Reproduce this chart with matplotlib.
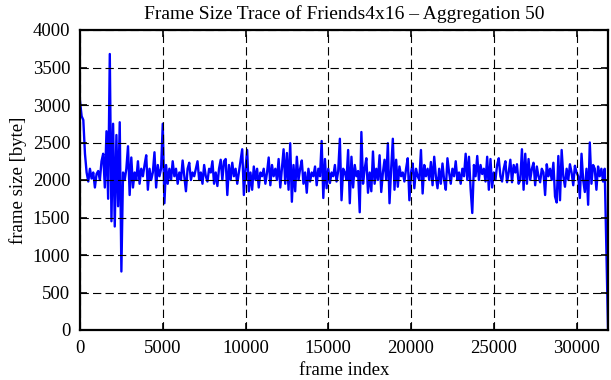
import matplotlib
matplotlib.use('Agg')
import matplotlib.pyplot as plt
import numpy as np

# frame size averaged over blocks, every 100 frames
frame_step = 100
frame_sizes = [
    # 0 - 4900
    3050, 2850, 2800, 2350, 2100, 1980, 2150, 2020, 2100, 1900,
    2080, 2120, 2000, 2250, 2350, 1900, 2650, 1750, 3680, 1450,
    2750, 1380, 2600, 1650, 2770, 780, 2100, 2000, 2150, 2450,
    1800, 2300, 1900, 2100, 2000, 2250, 1950, 2150, 2050, 2200,
    2330, 1870, 2150, 2000, 2100, 2370, 1900, 2200, 2050, 2150,
    # 5000 - 9900
    2750, 1690, 2200, 1950, 2150, 2000, 2250, 2050, 2150, 1950,
    2100, 2000, 2260, 2050, 1850, 2150, 2230, 2000, 2100, 2050,
    2150, 2250, 2000, 2100, 1950, 2200, 2050, 1980, 2150, 2100,
    2250, 1950, 2100, 1920, 2150, 2270, 2000, 2250, 2280, 1800,
    2200, 2000, 2230, 2050, 2150, 1950, 2100, 2250, 2410, 1800,
    # 10000 - 14900
    2150, 2400, 1850, 2100, 1870, 2180, 2000, 2150, 1900, 2100,
    2050, 2150, 1950, 2100, 2300, 1930, 2200, 2050, 2150, 2000,
    2280, 1900, 2150, 2410, 1950, 2360, 1870, 2490, 1710, 2200,
    1850, 2310, 2000, 2150, 2260, 1950, 2100, 1830, 2150, 1980,
    2100, 2050, 2180, 1930, 2150, 2050, 2520, 1760, 2280, 1890,
    # 15000 - 19900
    2150, 1960, 2100, 2050, 2200, 1980, 2120, 2550, 1730, 2150,
    2100, 2000, 2400, 1690, 2310, 1900, 2200, 2050, 2120, 1570,
    2640, 1950, 2150, 2290, 1830, 2100, 1850, 2380, 1950, 2150,
    2000, 2330, 1840, 2100, 2270, 2000, 2490, 1690, 2150, 2550,
    1870, 2270, 1910, 2180, 2050, 2100, 1980, 2150, 2290, 1730,
    # 20000 - 24900
    2100, 2220, 1890, 2150, 2050, 2000, 2400, 1820, 2200, 2050,
    2150, 2000, 2240, 1930, 2310, 2050, 1890, 2150, 1950, 2220,
    2000, 1870, 2290, 2100, 1950, 2150, 2050, 2250, 2000, 2100,
    1950, 2150, 2050, 2350, 2000, 2310, 1880, 1560, 2200, 2050,
    2320, 2000, 2200, 2080, 2150, 1980, 2310, 1870, 2280, 1900,
    # 25000 - 29900
    2100, 2000, 2200, 2290, 2050, 1980, 2150, 2250, 1970, 2100,
    2270, 1970, 2200, 2100, 2210, 1950, 2000, 2410, 1870, 2350,
    1950, 2280, 2000, 2150, 2230, 1930, 2180, 2050, 1970, 2150,
    2100, 1800, 2210, 2050, 2150, 2000, 2230, 1780, 1700, 2320,
    1730, 2400, 2050, 1910, 2150, 2000, 2210, 2100, 1930, 2190,
    # 30000 - 31900
    2100, 2050, 1760, 2350, 2000, 1840, 2150, 1670, 2500, 1950,
    2200, 2150, 1870, 2180, 2050, 2150, 1980, 2150, 1100, 30,
]
frame_index = np.arange(len(frame_sizes)) * frame_step

x_ticks = [0, 5000, 10000, 15000, 20000, 25000, 30000]
y_ticks = list(range(0, 4001, 500))

plt.rcParams['font.family'] = ['Liberation Serif', 'DejaVu Serif']
plt.rcParams['font.size'] = 13.5

fig = plt.figure(figsize=(6.11, 3.80), dpi=100)
ax = fig.add_axes([80 / 611, 50 / 380, 528 / 611, 300 / 380])

ax.plot(frame_index, frame_sizes, color='#0000ff', linewidth=1.7, zorder=2)

ax.set_xlim(0, frame_index[-1])
ax.set_ylim(0, 4000)
ax.set_xticks(x_ticks)
ax.set_yticks(y_ticks)

ax.set_axisbelow(False)
ax.grid(True, color='black', linewidth=0.8, linestyle=(0, (7.5, 3.75)))

ax.tick_params(direction='in', length=5, width=1.2, top=True, right=True,
               labelsize=13.5, pad=7)
for s in ax.spines.values():
    s.set_linewidth(1.6)
    s.set_zorder(3)

ax.set_title('Frame Size Trace of Friends4x16 \u2013 Aggregation 50',
             fontsize=14, pad=8)
ax.set_xlabel('frame index', labelpad=4)
ax.set_ylabel('frame size [byte]', labelpad=4)

fig.savefig('out.png', dpi=100)
